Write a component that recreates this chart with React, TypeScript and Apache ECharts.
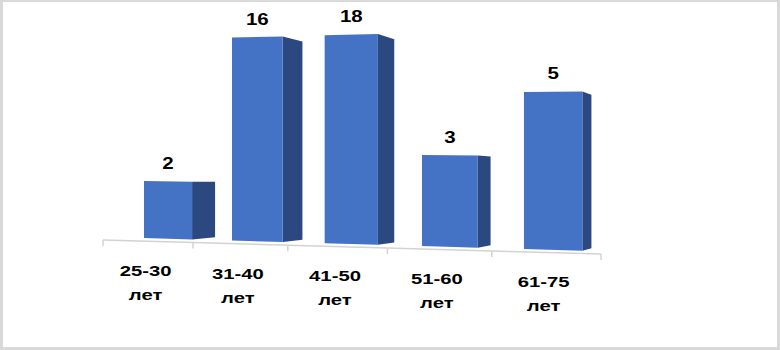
import React, { useEffect, useRef } from "react";
import * as echarts from "echarts";

// Age groups (category axis), unit word under each, respondent counts shown on the bars,
// and the bar heights as drawn in the picture (percent of plot height; the picture's bars
// are not drawn proportionally to the printed counts).
const categories = ["25-30", "31-40", "41-50", "51-60", "61-75"];
const unitLabel = "лет";
const counts = [2, 16, 18, 3, 5];
const barHeights = [27.1, 94.6, 94.8, 40.5, 68.3];

const FONT = '"Liberation Sans", Arial, sans-serif';
const FRONT = "#4472C4";
const SIDE = "#2B4880";
const AXIS = "#D3D3D3";

// perspective helpers (screen layout)
const barX = (t: number) => 144 + 85.67 * t + 2.33 * t * t; // bars (deeper plane)
const axisX = (u: number) => 103 + 87.6 * u + 2.4 * u * u; // axis (front plane)
const baseY = (x: number) => 238 + 0.029 * (x - 144);
const axisY = (x: number) => 240 + 0.0281 * (x - 103);
const hScale = (x: number) => 1 + 0.00025 * (x - 144);
const VP = [836, 180];
const DEPTH = 0.0357;
const toVP = (p: number[]) => [p[0] + DEPTH * (VP[0] - p[0]), p[1] + DEPTH * (VP[1] - p[1])];

export default function App() {
  const ref = useRef<HTMLDivElement>(null);
  useEffect(() => {
    if (!ref.current) return;
    const chart = echarts.init(ref.current, null, { renderer: "svg" });

    const barRender = (params: any, api: any) => {
      const i = api.value(0);
      const h = api.value(1);
      const c = api.coord([i, h]);
      const c0 = api.coord([i, 0]);
      const bw = api.size([1, 0])[0];
      const t = (c[0] - params.coordSys.x) / bw - 0.5;
      const hpx = c0[1] - c[1];
      const xl = barX(t);
      const xr = barX(t + 0.553);
      const tl = [xl, baseY(xl) - hpx * hScale(xl)];
      const tr = [xr, baseY(xr) - hpx * hScale(xr)];
      const br = [xr, baseY(xr)];
      const bl = [xl, baseY(xl)];
      const tr2 = toVP(tr);
      const br2 = toVP(br);
      return {
        type: "group",
        children: [
          { type: "polygon", shape: { points: [tr, tr2, br2, br] }, style: { fill: SIDE } },
          { type: "polygon", shape: { points: [tl, tr, br, bl] }, style: { fill: FRONT } },
          {
            type: "text",
            x: (xl + xr) / 2,
            y: (tl[1] + tr[1]) / 2 - 18,
            scaleX: 1.28,
            style: {
              text: String(counts[i]),
              fill: "#000",
              font: `bold 16px ${FONT}`,
              align: "center",
              verticalAlign: "middle",
            },
          },
        ],
      };
    };

    const axisRender = (params: any, api: any) => {
      const i = api.value(0);
      const c = api.coord([i, 0]);
      const bw = api.size([1, 0])[0];
      const uc = (c[0] - params.coordSys.x) / bw; // band center in band units
      const u0 = uc - 0.5;
      const u1 = uc + 0.5;
      const x0 = axisX(u0);
      const x1 = axisX(u1);
      const lx = axisX(uc - 0.02);
      const ly = axisY(lx) + 30;
      const children: any[] = [
        { type: "line", shape: { x1: x0, y1: axisY(x0), x2: x1, y2: axisY(x1) }, style: { stroke: AXIS, lineWidth: 1.5 } },
        { type: "line", shape: { x1: x0, y1: axisY(x0), x2: x0, y2: axisY(x0) + 6 }, style: { stroke: AXIS, lineWidth: 1.5 } },
        {
          type: "text",
          x: lx,
          y: ly,
          scaleX: 1.45,
          style: { text: categories[i], fill: "#000", font: `bold 14px ${FONT}`, align: "center", verticalAlign: "middle" },
        },
        {
          type: "text",
          x: lx,
          y: ly + 24,
          scaleX: 1.45,
          style: { text: unitLabel, fill: "#000", font: `bold 14px ${FONT}`, align: "center", verticalAlign: "middle" },
        },
      ];
      if (i === categories.length - 1) {
        children.push({
          type: "line",
          shape: { x1: x1, y1: axisY(x1), x2: x1, y2: axisY(x1) + 6 },
          style: { stroke: AXIS, lineWidth: 1.5 },
        });
      }
      return { type: "group", children };
    };

    chart.setOption({
      animation: false,
      backgroundColor: "#ffffff",
      grid: { left: 100, right: 180, top: 30, bottom: 110 },
      xAxis: { type: "category", data: categories, show: false },
      yAxis: { type: "value", min: 0, max: 100, show: false },
      graphic: [
        { type: "rect", shape: { x: 0, y: 0, width: 780, height: 2 }, style: { fill: "#D9D9D9" } },
        { type: "rect", shape: { x: 0, y: 0, width: 3, height: 350 }, style: { fill: "#D9D9D9" } },
        { type: "rect", shape: { x: 777, y: 0, width: 3, height: 350 }, style: { fill: "#D9D9D9" } },
        { type: "rect", shape: { x: 0, y: 347, width: 780, height: 3 }, style: { fill: "#D9D9D9" } },
      ],
      series: [
        {
          type: "custom",
          clip: false,
          renderItem: axisRender,
          data: categories.map((_, i) => [i, 0]),
        },
        {
          type: "custom",
          clip: false,
          renderItem: barRender,
          data: barHeights.map((h, i) => [i, h]),
        },
      ],
    });
    return () => chart.dispose();
  }, []);

  return (
    <div
      ref={ref}
      style={{ position: "fixed", left: 0, top: 0, width: 780, height: 350, background: "#fff" }}
    />
  );
}
